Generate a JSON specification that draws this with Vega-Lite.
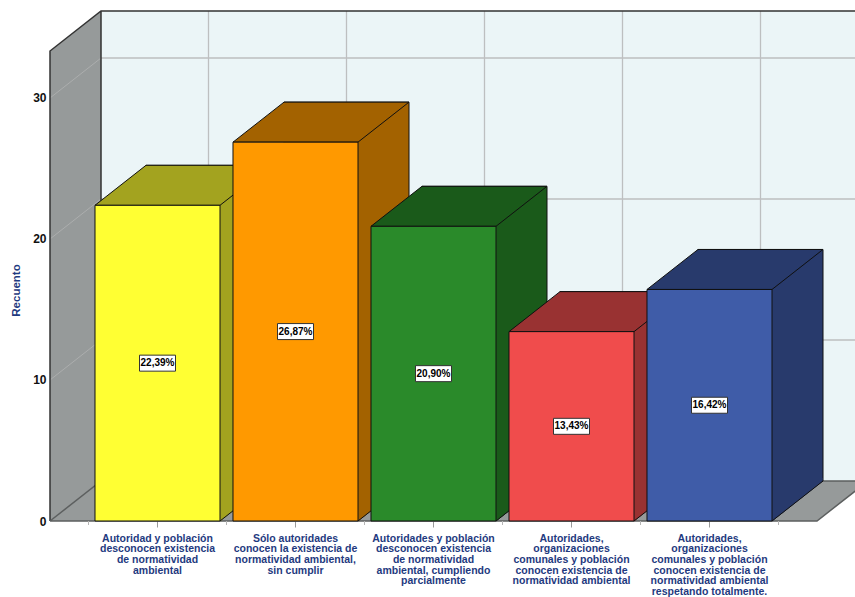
{
"$schema":"https://vega.github.io/schema/vega-lite/v6.json",
"width":805,"height":521,
"padding":{"left":50,"top":0,"right":0,"bottom":76},
"autosize":{"type":"none"},
"background":"white",
"config":{"view":{"stroke":null}},
"data":{"values":[
{"cat":"Autoridad y población|desconocen existencia|de normatividad|ambiental","pct":22.39,"label":"22,39%"},
{"cat":"Sólo autoridades|conocen la existencia de|normatividad ambiental,|sin cumplir","pct":26.87,"label":"26,87%"},
{"cat":"Autoridades y población|desconocen existencia|de normatividad|ambiental, cumpliendo|parcialmente","pct":20.90,"label":"20,90%"},
{"cat":"Autoridades,|organizaciones|comunales y población|conocen existencia de|normatividad ambiental","pct":13.43,"label":"13,43%"},
{"cat":"Autoridades,|organizaciones|comunales y población|conocen existencia de|normatividad ambiental|respetando totalmente.","pct":16.42,"label":"16,42%"}
]},
"transform":[{"calculate":"datum.pct/2","as":"mid"}],
"encoding":{
"x":{"field":"cat","type":"nominal","sort":null,"title":null,
"scale":{"domain":["Autoridad y población|desconocen existencia|de normatividad|ambiental","Sólo autoridades|conocen la existencia de|normatividad ambiental,|sin cumplir","Autoridades y población|desconocen existencia|de normatividad|ambiental, cumpliendo|parcialmente","Autoridades,|organizaciones|comunales y población|conocen existencia de|normatividad ambiental","Autoridades,|organizaciones|comunales y población|conocen existencia de|normatividad ambiental|respetando totalmente."],"range":[38.5,728.5],"paddingInner":0.0942,"paddingOuter":0.0471},
"axis":{"labelExpr":"split(datum.value,'|')","labelAngle":0,"labelAlign":"center","labelBaseline":"top","labelFont":"Liberation Sans","labelFontWeight":"bold","labelFontSize":10.5,"labelColor":"#1f3a80","labelLineHeight":10.7,"labelPadding":6,"labelLimit":300,"labelOverlap":false,"tickSize":6,"tickColor":"#999999","domain":false,"grid":false}}
},
"layer":[
{"transform":[{"filter":"datum.pct==22.39"}],"mark":{"type":"point","filled":true,"opacity":1,"size":4,"fill":"#ebf5f7","shape":"M-56.5,-510L720,-510L720,-40L-56.5,-40Z"},"encoding":{"y":{"datum":0,"type":"quantitative","scale":{"domain":[0,36.95],"nice":false},"axis":{"values":[0,10,20,30],"domain":false,"ticks":false,"grid":false,"labelFont":"Liberation Sans","labelFontWeight":"bold","labelFontSize":12,"labelColor":"#111111","labelPadding":4,"title":"Recuento","titleFont":"Liberation Sans","titleFontSize":11.5,"titleFontWeight":"bold","titleColor":"#1f3a80","titleX":-29,"titleY":290,"titleAnchor":"middle"}}}},
{"transform":[{"filter":"datum.pct==22.39"}],"mark":{"type":"point","filled":true,"opacity":1,"size":4,"fill":"#969a9a","shape":"M-107.5,-470L-56.5,-510L-56.5,-40L-107.5,0Z"},"encoding":{"y":{"datum":0,"type":"quantitative"}}},
{"transform":[{"filter":"datum.pct==22.39"}],"mark":{"type":"point","filled":true,"opacity":1,"size":4,"fill":"#969a9a","shape":"M-107.5,0L-56.5,-40L710.5,-40L659.5,0Z"},"encoding":{"y":{"datum":0,"type":"quantitative"}}},
{"transform":[{"filter":"datum.pct==22.39"}],"mark":{"type":"point","filled":false,"opacity":1,"size":4,"strokeWidth":1.3,"stroke":"#bdbfc0","shape":"M-56.5,-181L720,-181M-56.5,-322L720,-322M-56.5,-463L720,-463M51,-510L51,-40M189,-510L189,-40M327,-510L327,-40M465,-510L465,-40M603,-510L603,-40"},"encoding":{"y":{"datum":0,"type":"quantitative"}}},
{"transform":[{"filter":"datum.pct==22.39"}],"mark":{"type":"point","filled":false,"opacity":1,"size":4,"strokeWidth":1,"stroke":"#acaeae","shape":"M-107.5,-141L-56.5,-181M-107.5,-282L-56.5,-322M-107.5,-423L-56.5,-463"},"encoding":{"y":{"datum":0,"type":"quantitative"}}},
{"transform":[{"filter":"datum.pct==22.39"}],"mark":{"type":"point","filled":false,"opacity":1,"size":4,"strokeWidth":1.5,"stroke":"#333333","shape":"M-107.5,0L-107.5,-470L-56.5,-510L720,-510M-56.5,-510L-56.5,-40"},"encoding":{"y":{"datum":0,"type":"quantitative"}}},
{"transform":[{"filter":"datum.pct==22.39"}],"mark":{"type":"point","filled":false,"opacity":1,"size":4,"strokeWidth":1.5,"stroke":"#5c5f5f","shape":"M-107.5,0L-56.5,-40L710.5,-40L659.5,0L-107.5,0"},"encoding":{"y":{"datum":0,"type":"quantitative"}}},
{"mark":{"type":"point","filled":false,"opacity":1,"size":4,"strokeWidth":1,"stroke":"#b5b5b5","shape":"M-69,0L-69,4M69,0L69,4"},"encoding":{"y":{"datum":0,"type":"quantitative"}}},
{"mark":{"type":"bar","xOffset":51,"x2Offset":51,"yOffset":-40,"y2Offset":-40,"stroke":"#101010","strokeWidth":1,"opacity":1},"encoding":{"y":{"field":"pct","type":"quantitative"},"y2":{"datum":0},"color":{"field":"cat","type":"nominal","sort":null,"legend":null,"scale":{"range":["#a3a31f","#a36200","#1a5a1a","#993232","#283a6c"]}}}},
{"mark":{"type":"point","filled":true,"opacity":1,"size":4,"strokeWidth":1,"shape":"M62.5,0L62.5,-43L112.5,-43L112.5,-39.5Z"},"encoding":{"y":{"datum":0,"type":"quantitative"},"color":{"field":"cat","type":"nominal","sort":null,"legend":null,"scale":{"range":["#a3a31f","#a36200","#1a5a1a","#993232","#283a6c"]}},"stroke":{"field":"cat","type":"nominal","sort":null,"legend":null,"scale":{"range":["#a3a31f","#a36200","#1a5a1a","#993232","#283a6c"]}}}},
{"mark":{"type":"point","filled":false,"opacity":1,"size":4,"strokeWidth":1,"stroke":"#101010","shape":"M62.5,0L113.5,-40"},"encoding":{"y":{"datum":0,"type":"quantitative"}}},
{"mark":{"type":"point","filled":true,"opacity":1,"size":4,"strokeWidth":1,"stroke":"#101010","shape":"M-62.5,0L-11.5,-40L113.5,-40L62.5,0Z"},"encoding":{"y":{"field":"pct","type":"quantitative"},"color":{"field":"cat","type":"nominal","sort":null,"legend":null,"scale":{"range":["#a3a31f","#a36200","#1a5a1a","#993232","#283a6c"]}}}},
{"mark":{"type":"bar","stroke":"#101010","strokeWidth":1,"opacity":1},"encoding":{"y":{"field":"pct","type":"quantitative"},"color":{"field":"cat","type":"nominal","sort":null,"legend":null,"scale":{"range":["#ffff33","#ff9900","#2a8a2a","#f04c4c","#3f5ca8"]}}}},
{"mark":{"type":"point","filled":true,"opacity":1,"size":4,"fill":"white","stroke":"#333333","strokeWidth":1,"shape":"M-18,-8L18,-8L18,8L-18,8Z"},"encoding":{"y":{"field":"mid","type":"quantitative"}}},
{"mark":{"type":"text","font":"Liberation Sans","fontWeight":"bold","fontSize":10,"color":"#000000","align":"center","baseline":"middle"},"encoding":{"y":{"field":"mid","type":"quantitative"},"text":{"field":"label"}}}
],
"resolve":{"scale":{"color":"independent","stroke":"independent"}}
}
